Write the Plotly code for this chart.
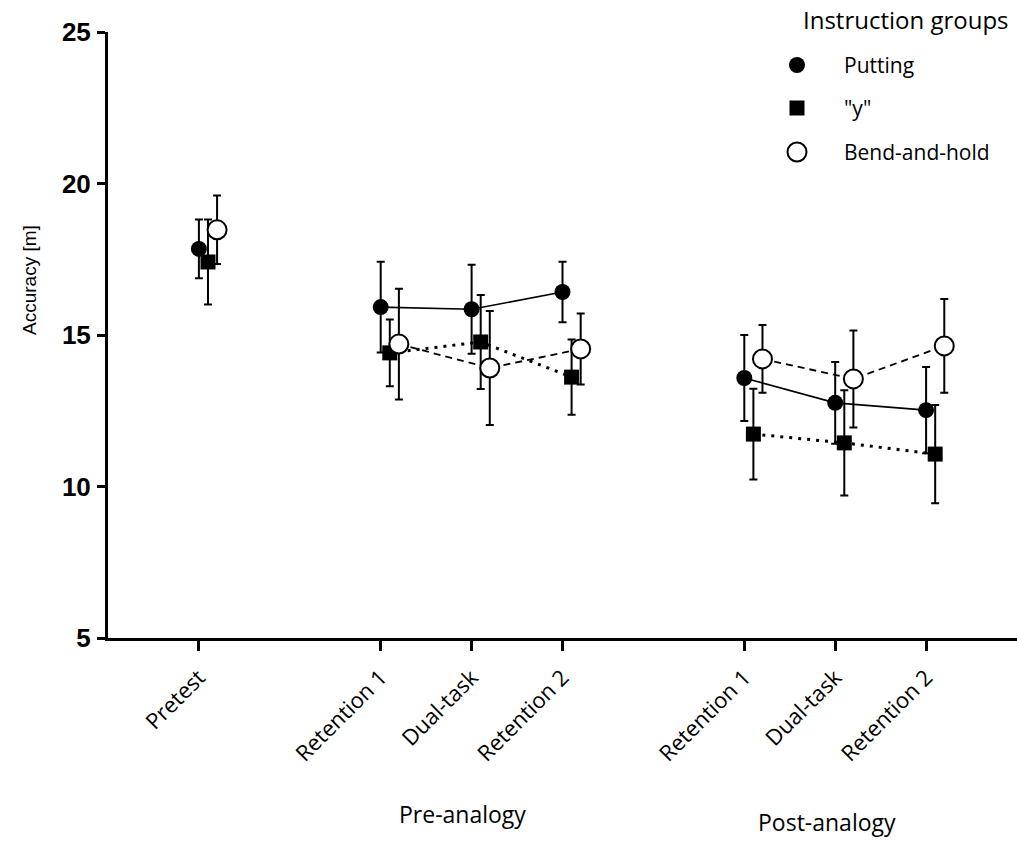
import plotly.graph_objects as go

# Test sessions and their positions on the x axis (gap between phases)
sessions = ["Pretest", "Retention 1", "Dual-task", "Retention 2",
            "Retention 1", "Dual-task", "Retention 2"]
session_pos = [0, 2, 3, 4, 6, 7, 8]
# Points joined by lines within each phase
segments = [[0], [1, 2, 3], [4, 5, 6]]

# Mean accuracy [m] and error per instruction group
putting_mean = [17.84, 15.92, 15.85, 16.42, 13.58, 12.76, 12.52]
putting_err = [0.97, 1.50, 1.47, 1.00, 1.42, 1.35, 1.42]

y_mean = [17.41, 14.41, 14.77, 13.61, 11.73, 11.44, 11.07]
y_err = [1.40, 1.10, 1.55, 1.24, 1.50, 1.74, 1.62]

bend_mean = [18.47, 14.70, 13.91, 14.54, 14.21, 13.55, 14.64]
bend_err = [1.13, 1.83, 1.88, 1.17, 1.12, 1.60, 1.55]

group_names = ["Putting", '"y"', "Bend-and-hold"]

W, H = 1017, 841
L, R, T, B = 108, 0, 32, 203
PW, PH = W - L - R, H - T - B


def px(x):
    return (x - L) / PW


def py(y):
    return (H - B - y) / PH


def with_gaps(values, offset=0.0):
    out = []
    for k, seg in enumerate(segments):
        if k:
            out.append(None)
        out.extend(values[i] + offset for i in seg)
    return out


styles = [
    dict(name=group_names[0], mean=putting_mean, err=putting_err, off=0.0,
         marker=dict(symbol="circle", size=16, color="black"),
         line=dict(color="black", width=1.6, dash="solid")),
    dict(name=group_names[1], mean=y_mean, err=y_err, off=0.1,
         marker=dict(symbol="square", size=15, color="black"),
         line=dict(color="black", width=3, dash="3px,6px")),
    dict(name=group_names[2], mean=bend_mean, err=bend_err, off=0.2,
         marker=dict(symbol="circle", size=19, color="white",
                     line=dict(color="black", width=2)),
         line=dict(color="black", width=1.8, dash="7px,5px")),
]

fig = go.Figure()
for s in styles:
    fig.add_trace(go.Scatter(
        x=with_gaps(session_pos, s["off"]),
        y=with_gaps(s["mean"]),
        mode="lines+markers",
        name=s["name"],
        marker=s["marker"],
        line=s["line"],
        error_y=dict(type="data", array=with_gaps(s["err"]), visible=True,
                     color="black", thickness=2, width=4),
        connectgaps=False,
        showlegend=False,
        hoverinfo="skip",
    ))

text_font = "Open Sans"


def label(text, x, y, size, family=text_font, xanchor="center", angle=0):
    return dict(text=text, xref="paper", yref="paper",
                x=px(x), y=py(y), xanchor=xanchor, yanchor="middle",
                textangle=angle, showarrow=False,
                font=dict(family=family, size=size, color="black"))


annotations = [
    label("Accuracy [m]", 29, 280, 19, family="Liberation Sans", angle=-90),
    label("Pre-analogy", 462, 814, 23),
    label("Post-analogy", 827, 822, 23),
    label("Instruction groups", 906, 20, 24),
]

# Key: symbols and labels for the three groups
legend_rows = [65, 108, 152]
shapes = []
for row, s in zip(legend_rows, styles):
    annotations.append(label(s["name"], 842, row, 21, xanchor="left"))
    m = s["marker"]
    half = m["size"] / 2
    kind = "rect" if m["symbol"] == "square" else "circle"
    shapes.append(dict(
        type=kind, xref="paper", yref="paper",
        xsizemode="pixel", ysizemode="pixel",
        xanchor=px(797), yanchor=py(row),
        x0=-half, x1=half, y0=-half, y1=half,
        fillcolor=m["color"],
        line=dict(color="black", width=2 if m["color"] == "white" else 0),
    ))

fig.update_layout(
    width=W, height=H,
    margin=dict(l=L, r=R, t=T, b=B, pad=0),
    plot_bgcolor="white", paper_bgcolor="white",
    showlegend=False,
    annotations=annotations,
    shapes=shapes,
    xaxis=dict(
        range=[-1, 9], tickvals=session_pos, ticktext=sessions,
        tickangle=-45, showgrid=False, zeroline=False,
        showline=True, linecolor="black", linewidth=3,
        ticks="outside", ticklen=10, tickwidth=3, tickcolor="black",
        ticklabelstandoff=5,
        tickfont=dict(family=text_font, size=22, color="black"),
    ),
    yaxis=dict(
        range=[5, 25], tickvals=[5, 10, 15, 20, 25],
        showgrid=False, zeroline=False,
        showline=True, linecolor="black", linewidth=3,
        ticks="outside", ticklen=8, tickwidth=3, tickcolor="black",
        ticklabelstandoff=1,
        tickfont=dict(family="Liberation Sans", size=26, color="black",
                      weight="bold"),
    ),
)

fig.write_html("out.html")
